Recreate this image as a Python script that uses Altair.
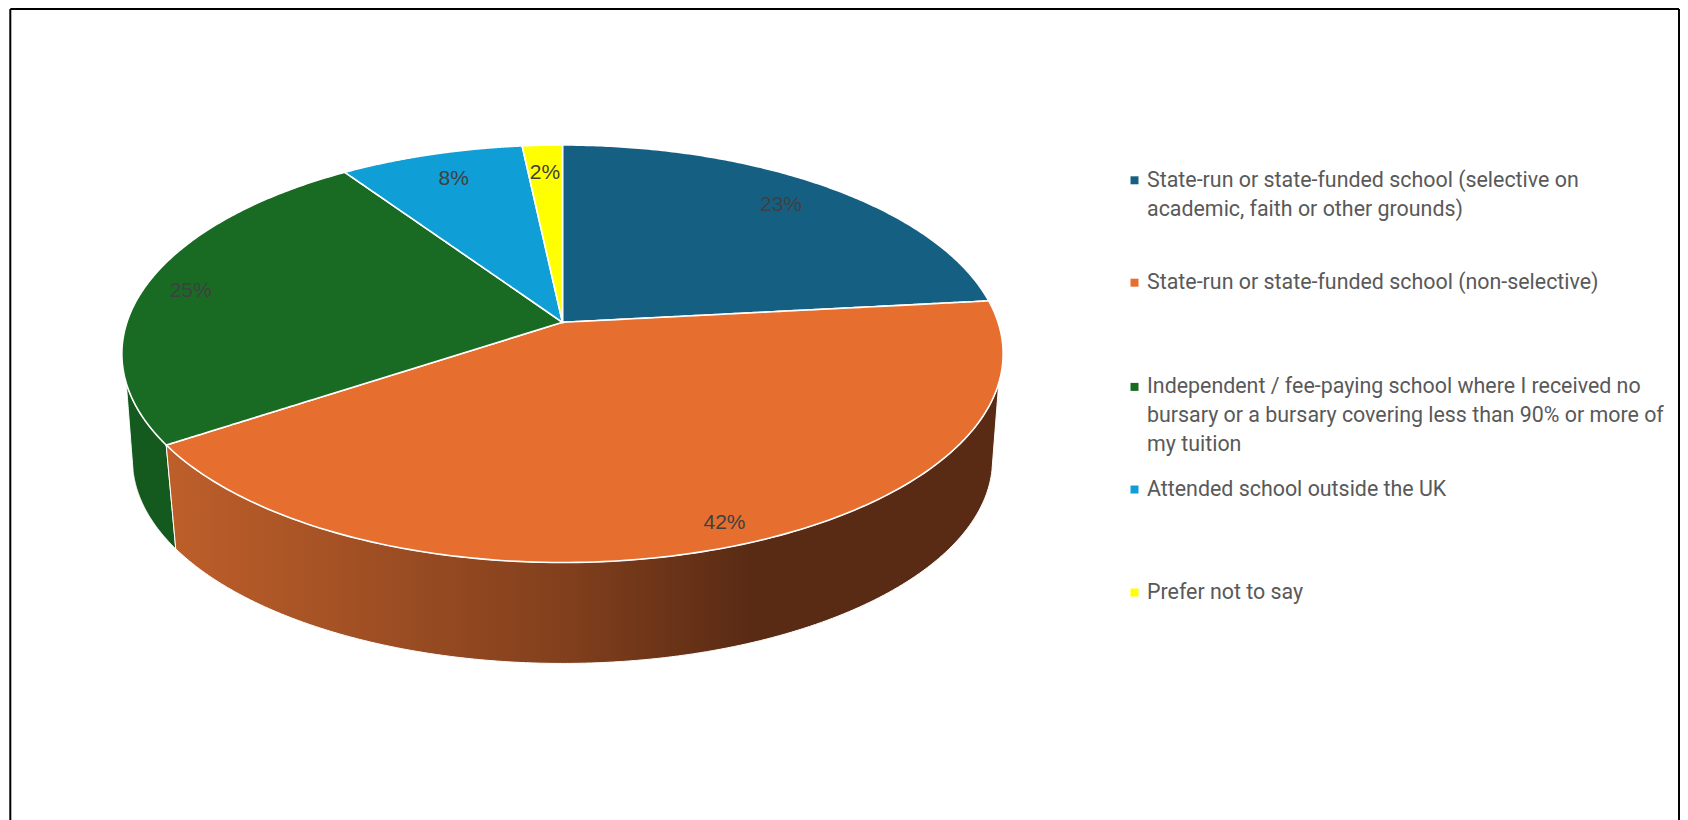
import math
import altair as alt
import pandas as pd

# ---- chart content ----
categories = [
    "State-run or state-funded school (selective on\nacademic, faith or other grounds)",
    "State-run or state-funded school (non-selective)",
    "Independent / fee-paying school where I received no\nbursary or a bursary covering less than 90% or more of\nmy tuition",
    "Attended school outside the UK",
    "Prefer not to say",
]
shares = [23.3, 42.4, 24.8, 7.8, 1.7]
colors = ["#156082", "#E66F30", "#196B24", "#0F9ED5", "#FFFF00"]

# ---- layout (reference pixels) ----
CX, APEX_Y, A, B, P = 562.5, 322.3, 435.6, 204.0, 0.1507
DEPTH = 0.976
BASE_APEX_Y = 429.0
label_pos = [(781, 205), (724.5, 522.5), (190.7, 291), (453.7, 178.8), (545, 173.2)]
legend_text_y = [180.7, 283, 387.4, 489.7, 593]
legend_mark_y = [180.3, 282.7, 386.9, 489.5, 592.5]
LEG_MARK_X, LEG_TEXT_X = 1134.5, 1147


def top_pt(deg):
    t = math.radians(deg)
    u, v = math.sin(t), math.cos(t)
    d = 1 + P * v
    return CX + A * u / d, APEX_Y - B * v / d


def base_pt(deg):
    t = math.radians(deg)
    u, v = math.sin(t), math.cos(t)
    d = 1 + P * v
    return CX + A * DEPTH * u / d, BASE_APEX_Y - B * DEPTH * v / d


def arc(fn, a0, a1, n=160):
    return [fn(a0 + (a1 - a0) * i / n) for i in range(n + 1)]


def band(poly):
    """Turn an x-monotone polygon into x / y / y2 rows for an area mark."""
    xs = sorted({round(p[0], 2) for p in poly})
    rows = []
    m = len(poly)
    for x in xs:
        ys = []
        for i in range(m):
            (x0, y0), (x1, y1) = poly[i], poly[(i + 1) % m]
            lo, hi = min(x0, x1), max(x0, x1)
            if lo - 0.006 <= x <= hi + 0.006:
                if abs(x1 - x0) < 1e-9:
                    ys += [y0, y1]
                else:
                    f = min(1, max(0, (x - x0) / (x1 - x0)))
                    ys.append(y0 + f * (y1 - y0))
        rows.append({"x": x, "y": min(ys), "y2": max(ys)})
    return rows


# top-face slices
rows = []
cum = 0.0
bounds = []
for cat, share in zip(categories, shares):
    a0, a1 = cum * 3.6, (cum + share) * 3.6
    bounds.append((a0, a1))
    poly = [(CX, APEX_Y)] + arc(top_pt, a0, a1)
    for r in band(poly):
        r["slice"] = cat
        rows.append(r)
    cum += share
top_df = pd.DataFrame(rows)

# side walls
orange_end = bounds[1][1]
wall_o = arc(top_pt, 106.6, orange_end) + arc(base_pt, orange_end, 101.6)
wall_g = arc(top_pt, orange_end, 253.4) + arc(base_pt, 258.4, orange_end)
wall_o_df = pd.DataFrame(band(wall_o))
wall_g_df = pd.DataFrame(band(wall_g))

X = lambda f="x": alt.X(f"{f}:Q", scale=alt.Scale(domain=[8, 1680]), axis=None)
Y = lambda f="y": alt.Y(f"{f}:Q", scale=alt.Scale(domain=[820, 8]), axis=None)

orange_grad = alt.Gradient(
    gradient="linear", x1=0, x2=1, y1=0, y2=0,
    stops=[
        alt.GradientStop(color="#BE5F2A", offset=0),
        alt.GradientStop(color="#83401D", offset=0.47),
        alt.GradientStop(color="#5A2B14", offset=0.70),
        alt.GradientStop(color="#5A2B14", offset=1),
    ],
)

wall_orange = alt.Chart(wall_o_df).mark_area(color=orange_grad, stroke="white", strokeWidth=1).encode(
    x=X(), y=Y(), y2="y2:Q")
wall_green = alt.Chart(wall_g_df).mark_area(color="#145A1E", stroke="white", strokeWidth=1).encode(
    x=X(), y=Y(), y2="y2:Q")

faces = alt.Chart(top_df).mark_area(stroke="white", strokeWidth=1.6).encode(
    x=X(),
    y=alt.Y("y:Q", scale=alt.Scale(domain=[820, 8]), axis=None, stack=None),
    y2="y2:Q",
    color=alt.Color("slice:N", scale=alt.Scale(domain=categories, range=colors), legend=None),
)

label_df = pd.DataFrame({
    "x": [p[0] for p in label_pos],
    "y": [p[1] for p in label_pos],
    "label": [f"{s:.0f}%" for s in shares],
})
labels = alt.Chart(label_df).mark_text(
    font="Liberation Sans", fontSize=21, color="#404040", align="center", baseline="middle"
).encode(x=X(), y=Y(), text="label:N")

legend_df = pd.DataFrame({
    "text": categories,
    "y": legend_text_y,
    "mx": [LEG_MARK_X] * 5,
    "tx": [LEG_TEXT_X] * 5,
    "my": legend_mark_y,
})
leg_marks = alt.Chart(legend_df).mark_square(size=64, opacity=1, filled=True).encode(
    x=X("mx"), y=Y("my"),
    color=alt.Color("text:N", scale=alt.Scale(domain=categories, range=colors), legend=None),
)
leg_text = alt.Chart(legend_df).mark_text(
    font="Roboto", fontSize=21.4, color="#595959", align="left", baseline="middle",
    lineBreak="\n", lineHeight=29,
).encode(x=X("tx"), y=Y(), text="text:N")

frame_v = alt.Chart(pd.DataFrame({"x": [10.3, 1679], "y": [9, 9], "y2": [820, 820]})).mark_rule(
    color="black", strokeWidth=2).encode(x=X(), y=Y(), y2="y2:Q")
frame_h = alt.Chart(pd.DataFrame({"x": [10.3], "x2": [1679], "y": [9]})).mark_rule(
    color="black", strokeWidth=2).encode(x=X(), x2="x2:Q", y=Y())

chart = alt.layer(
    wall_green, wall_orange, faces, labels, leg_marks, leg_text, frame_v, frame_h
).resolve_scale(color="independent").properties(
    width=1672, height=812, padding=0, background="white"
).configure_view(stroke=None)

chart.save("out.html", embed_options={"renderer": "svg", "actions": False})
